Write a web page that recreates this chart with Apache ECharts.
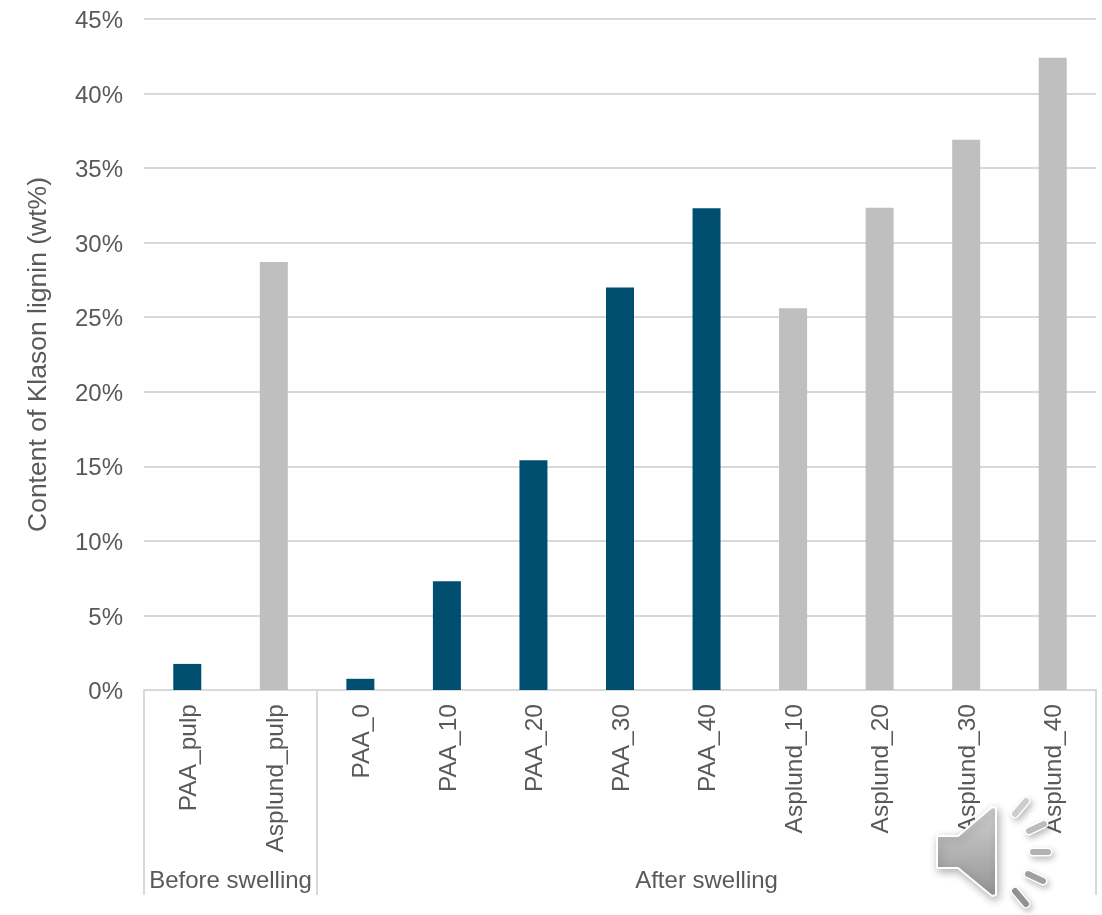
<!DOCTYPE html>
<html>
<head>
<meta charset="utf-8">
<style>html,body{margin:0;padding:0;background:#fff}#chart{width:1102px;height:915px}</style>
<script src="https://cdn.jsdelivr.net/npm/echarts@6/dist/echarts.min.js"></script>
</head>
<body>
<div id="chart"></div>
<script>
// Klason lignin content per sample, grouped by swelling stage
const categories = ['PAA_pulp','Asplund_pulp','PAA_0','PAA_10','PAA_20','PAA_30','PAA_40','Asplund_10','Asplund_20','Asplund_30','Asplund_40'];
const ligninValues = [1.75,28.7,0.75,7.3,15.4,27.0,32.3,25.6,32.35,36.9,42.4];
const barColors = ['#004f71','#bfbfbf','#004f71','#004f71','#004f71','#004f71','#004f71','#bfbfbf','#bfbfbf','#bfbfbf','#bfbfbf'];
const groupLabels = ['Before swelling','After swelling'];
const groupCentres = [1,6.5];
const groupEdges = [0,2,11];

const TEXT = '#595959', RULE = '#d9d9d9', FONT = '"Liberation Sans", Arial, sans-serif';
const chart = echarts.init(document.getElementById('chart'), null, {renderer:'canvas'});

// Speaker badge sitting on top of the chart
const ray = (x1,y1,x2,y2,stroke) => [
  {type:'line',z:100,shape:{x1,y1,x2,y2},style:{stroke:'#fff',lineWidth:9,lineCap:'round',shadowBlur:6,shadowColor:'rgba(0,0,0,.28)',shadowOffsetX:2,shadowOffsetY:3}},
  {type:'line',z:101,shape:{x1,y1,x2,y2},style:{stroke,lineWidth:6,lineCap:'round'}}
];
const speaker = [
  {type:'polygon',z:100,shape:{points:[[937,836],[958,836],[992,807],[996,808],[996,895],[992,896],[958,868],[937,868]]},
   style:{fill:{type:'linear',x:0,y:0,x2:0,y2:1,colorStops:[{offset:0,color:'#d0d1d2'},{offset:1,color:'#959596'}]},
     stroke:'#fff',lineWidth:2,lineJoin:'round',shadowBlur:8,shadowColor:'rgba(0,0,0,.3)',shadowOffsetX:2,shadowOffsetY:3}},
  ...ray(1015,814,1026,801,'#cdcdcd'), ...ray(1029,831,1044,824,'#bcbcbc'), ...ray(1033,852,1048,852,'#b2b2b2'),
  ...ray(1028,874,1043,881,'#a0a0a0'), ...ray(1015,891,1026,904,'#929292')
];

chart.setOption({
  animation:false,
  backgroundColor:'#fff',
  grid:{left:144,right:6,top:19,bottom:225,containLabel:false},
  textStyle:{fontFamily:FONT},
  xAxis:[
    {type:'category',data:categories,
     axisLine:{show:true,lineStyle:{color:RULE,width:2}},axisTick:{show:false},
     axisLabel:{rotate:90,interval:0,margin:14,color:TEXT,fontSize:24.5,fontFamily:FONT,
       formatter:v=>`{t|${v}}`,
       rich:{t:{padding:[4,0,0,0],color:TEXT,fontSize:24.5,fontFamily:FONT}}}},
    // Group brackets: separators and stage names under the sample labels
    {type:'value',position:'bottom',min:0,max:11,
     axisLine:{show:false},splitLine:{show:false},
     axisTick:{show:true,inside:false,length:205,customValues:groupEdges,lineStyle:{color:RULE,width:2}},
     axisLabel:{customValues:groupCentres,margin:179,color:TEXT,fontSize:24,fontFamily:FONT,
       formatter:v=>groupLabels[groupCentres.indexOf(v)]}}
  ],
  yAxis:{type:'value',min:0,max:45,interval:5,
    name:'Content of Klason lignin (wt%)',nameLocation:'middle',nameGap:92,
    nameTextStyle:{color:TEXT,fontSize:26.5,fontFamily:FONT},
    axisLine:{show:false},axisTick:{show:false},
    axisLabel:{margin:21,color:TEXT,fontSize:24,fontFamily:FONT,
      formatter:v=>`{t|${v}%}`,
      rich:{t:{padding:[5,0,0,0],color:TEXT,fontSize:24,fontFamily:FONT}}},
    splitLine:{lineStyle:{color:RULE,width:2}}},
  series:[{type:'bar',xAxisIndex:0,barWidth:28,
    data:ligninValues.map((v,i)=>({value:v,itemStyle:{color:barColors[i]}}))}],
  graphic:speaker
});
</script>
</body>
</html>
